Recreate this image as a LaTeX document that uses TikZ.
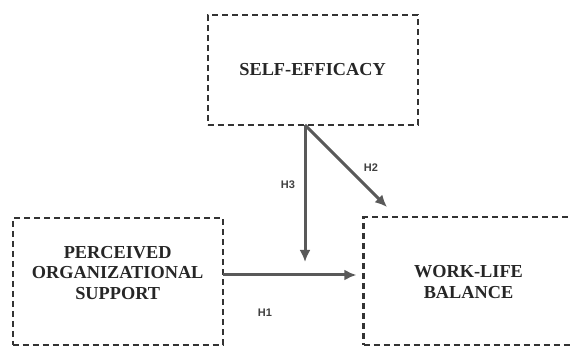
\documentclass[tikz,border=0pt]{standalone}
\usepackage{fontspec}
\setmainfont{Liberation Serif}
\newfontfamily\hfont{Liberation Sans}
\usetikzlibrary{arrows.meta,positioning}

\tikzset{
  varbox/.style={draw=black!80,line width=2.2pt,dash pattern=on 6pt off 4pt,
    minimum width=210pt,inner sep=0pt},
  vartext/.style={align=center,font=\fontsize{18.3}{20.5}\selectfont\bfseries,text=black!85},
  hpath/.style={draw=black!65,line width=3pt,-{Latex[length=12pt,width=11pt]}},
  hlabel/.style={font=\hfont\fontsize{11}{13}\selectfont\bfseries,text=black!75}
}

\begin{document}
\begin{tikzpicture}[x=1pt,y=-1pt]
\useasboundingbox (0,0) rectangle (571,347);

% constructs
\node[varbox,minimum height=110pt](se) at (312.6,70){};
\node[vartext](setxt) at (se.center){SELF-EFFICACY};

\node[varbox,minimum height=127pt](pos) at (117.7,281.5){};
\node[vartext](postxt) at ([yshift=8.5pt]pos.center){PERCEIVED\\ORGANIZATIONAL\\SUPPORT};

\node[varbox,minimum width=218pt,minimum height=128pt](wlb) at (472.5,281){};
\node[vartext](wlbtxt) at ([xshift=-4pt,yshift=-1pt]wlb.center){WORK-LIFE\\BALANCE};

% hypotheses
\coordinate (h3from) at (305,125);
\coordinate (h3to) at (305,262);
\coordinate (h1from) at (222.7,275);
\coordinate (h2to) at (387,207);

\draw[hpath] (h1from) -- (h1from -| wlb.west) [shorten >=6pt];
\draw[hpath] (h3from) -- (h3to);
\draw[hpath] (h3from) -- (h2to);

\node[hlabel](h1) at (265,313){H1};
\node[hlabel](h2) at (371,168){H2};
\node[hlabel](h3) at (288,185){H3};
\end{tikzpicture}
\end{document}
